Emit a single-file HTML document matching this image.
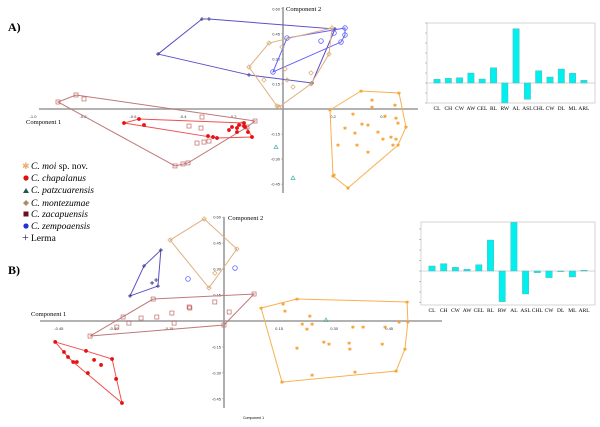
<!DOCTYPE html>
<html><head><meta charset="utf-8">
<style>
html,body{margin:0;padding:0;background:#fff;width:600px;height:427px;overflow:hidden}
svg{display:block;font-family:"Liberation Serif",serif}
</style></head>
<body>
<svg id="fig" width="600" height="427" viewBox="0 0 600 427" xmlns="http://www.w3.org/2000/svg">
<text x="8" y="31" font-size="12" font-weight="bold">A)</text>
<text x="8" y="274" font-size="12" font-weight="bold">B)</text>
<g font-size="9.5">
 <g><text x="22" y="169" fill="#e8b070" font-size="9">✱</text><text x="31" y="169"><tspan font-style="italic">C. moi</tspan> sp. nov.</text></g>
 <g><circle cx="26" cy="178" r="2.6" fill="#e01010"/><text x="31" y="181" font-style="italic">C. chapalanus</text></g>
 <g><path d="M23,193 L26,188 L29,193Z" fill="#1a5a50"/><text x="31" y="193" font-style="italic">C. patzcuarensis</text></g>
 <g><path d="M26,200 L29,203 L26,206 L23,203Z" fill="#b08a60"/><text x="31" y="206" font-style="italic">C. montezumae</text></g>
 <g><rect x="23.5" y="211.5" width="5" height="5" fill="#6a1020"/><text x="31" y="217" font-style="italic">C. zacapuensis</text></g>
 <g><circle cx="26" cy="226" r="2.6" fill="#2030e0"/><text x="31" y="229" font-style="italic">C. zempoaensis</text></g>
 <g><text x="22" y="241" font-size="12" fill="#202060">+</text><text x="31" y="241">Lerma</text></g>
</g>
<g id="plotA"></g>
<g id="plotB"></g>
<g id="barA"></g>
<g id="barB"></g>
<text x="243" y="419" font-size="3.5" font-family="Liberation Sans">Component 1</text>
</svg>
<script>
// ---- Panel A data (component units) ----
const aLermaX=[-0.324,-0.296,0.208,0.116,-0.136,-0.5];
const aLermaY=[0.539,0.539,0.479,0.156,0.204,0.329];
const aZempX=[0.016,0.204,0.248,0.248,0.232,-0.04,0.152];
const aZempY=[0.425,0.455,0.485,0.443,0.401,0.222,0.407];
const aMontX=[-0.056,0.196,0.184,0.112,-0.024,-0.136,-0.004,0.008,-0.076,0.016,0.04,0.112,-0.016];
const aMontY=[0.395,0.485,0.329,0.150,0.018,0.251,0.371,0.240,0.174,0.174,0.132,0.216,0.012];
const aZacX=[-0.9,-0.828,-0.112,-0.38,-0.4,-0.432,-0.796,-0.324,-0.376,-0.328,-0.296,-0.316,-0.344,-0.144,-0.16];
const aZacY=[0.042,0.084,-0.072,-0.323,-0.329,-0.341,0.06,-0.048,-0.102,-0.114,-0.192,-0.198,-0.204,-0.108,-0.090];
const aChapX=[-0.636,-0.576,-0.556,-0.3,-0.28,-0.264,-0.216,-0.204,-0.184,-0.176,-0.156,-0.152,-0.184,-0.14,-0.124,-0.156];
const aChapY=[-0.084,-0.06,-0.096,-0.162,-0.168,-0.174,-0.126,-0.108,-0.114,-0.096,-0.102,-0.108,-0.138,-0.138,-0.168,-0.084];
const aPatzX=[-0.028,0.04];
const aPatzY=[-0.228,-0.413];
const aMoiX=[0.312,0.464,0.492,0.46,0.26,0.2,0.188,0.356,0.356,0.448,0.408,0.452,0.46,0.28,0.248,0.316,0.34,0.38,0.288,0.22,0.296,0.34,0.4,0.432,0.452,0.44,0.204];
const aMoiY=[0.108,0.096,-0.108,-0.216,-0.473,-0.401,-0.006,0.054,0.012,0.024,-0.042,-0.054,-0.084,-0.030,-0.114,-0.090,-0.096,-0.138,-0.144,-0.216,-0.216,-0.257,-0.180,-0.168,-0.180,-0.216,-0.395];
const aXTicks=[-1.0,-0.8,-0.6,-0.4,-0.2,0.2,0.4];
const aYTicks=[0.60,0.45,0.30,0.15,-0.15,-0.30,-0.45];
// ---- Panel B data ----
const bLermaX=[-0.172,-0.18,-0.256,-0.218,-0.196,-0.185];
const bLermaY=[0.41,0.202,0.145,0.318,0.220,0.237];
const bMontX=[-0.054,0.035,-0.041,-0.147,-0.025];
const bMontY=[0.59,0.416,0.191,0.468,0.277];
const bZempX=[-0.098,0.030];
const bZempY=[0.243,0.306];
const bZacX=[-0.365,-0.193,0.082,0,-0.275,-0.292,-0.259,-0.226,-0.183,-0.142,-0.095,-0.093,-0.025,0.014,-0.136];
const bZacY=[-0.087,0.127,0.156,-0.023,0.023,-0.035,-0.012,0.017,0.023,0.046,0.081,0.075,0.110,0.052,-0.012];
const bChapX=[-0.46,-0.305,-0.294,-0.278,-0.436,-0.425,-0.411,-0.401,-0.376,-0.354,-0.335,-0.371];
const bChapY=[-0.121,-0.220,-0.335,-0.474,-0.179,-0.208,-0.237,-0.237,-0.173,-0.225,-0.254,-0.301];
const bMoiX=[0.101,0.199,0.499,0.501,0.493,0.469,0.158,0.161,0.166,0.234,0.213,0.240,0.226,0.351,0.379,0.439,0.477,0.272,0.286,0.341,0.343,0.199,0.431,0.240,0.357];
const bMoiY=[0.075,0.127,0.110,-0.006,-0.162,-0.289,-0.353,0.098,0.058,0.029,-0.017,-0.017,-0.046,-0.035,-0.035,-0.035,-0.006,-0.121,-0.133,-0.127,-0.162,-0.156,-0.133,-0.312,-0.295];
const bPatzX=[0.278];
const bPatzY=[0.006];
const bXTicks=[-0.45,-0.30,-0.15,0.15,0.30,0.45];
const bYTicks=[0.60,0.45,0.30,0.15,-0.15,-0.30,-0.45];
// ---- Bar loadings ----
const barCats=["CL","CH","CW","AW","CEL","RL","RW","AL","ASL","CHL","CW","DL","ML","ARL"];
const barAVals=[0.37,0.47,0.53,1.0,0.4,1.53,-2.0,5.43,-1.63,1.23,0.6,1.4,0.97,0.27];
const barBVals=[0.48,0.7,0.35,0.17,0.6,2.95,-2.92,4.63,-2.19,-0.16,-0.63,-0.06,-0.57,0.08];
const barATicks=[-2,-1,0,1,2,3,4,5,6];
const barBTicks=[-3,-2,-1,0,1,2,3,4];

const NS="http://www.w3.org/2000/svg";
function mk(parent,tag,attrs){const e=document.createElementNS(NS,tag);for(const k in attrs)e.setAttribute(k,attrs[k]);parent.appendChild(e);return e;}
function hull(pts){
  const p=pts.slice().sort((a,b)=>a[0]-b[0]||a[1]-b[1]);
  const cr=(o,a,b)=>(a[0]-o[0])*(b[1]-o[1])-(a[1]-o[1])*(b[0]-o[0]);
  const lo=[],up=[];
  for(const q of p){while(lo.length>=2&&cr(lo[lo.length-2],lo[lo.length-1],q)<=0)lo.pop();lo.push(q);}
  for(let i=p.length-1;i>=0;i--){const q=p[i];while(up.length>=2&&cr(up[up.length-2],up[up.length-1],q)<=0)up.pop();up.push(q);}
  up.pop();lo.pop();return lo.concat(up);
}
function marker(g,type,x,y,col){
  let e;
  if(type==="star"){e=mk(g,"text",{x:x,y:y+2,"font-size":5,"text-anchor":"middle",fill:col});e.textContent="✱";}
  else if(type==="dot"){e=mk(g,"circle",{cx:x,cy:y,r:1.9,fill:col});}
  else if(type==="ocircle"){e=mk(g,"circle",{cx:x,cy:y,r:2.3,fill:"none",stroke:col,"stroke-width":0.8});}
  else if(type==="osq"){e=mk(g,"rect",{x:x-2,y:y-2,width:4,height:4,fill:"none",stroke:col,"stroke-width":0.7});}
  else if(type==="odia"){e=mk(g,"path",{d:`M${x},${y-2.2}L${x+2.2},${y}L${x},${y+2.2}L${x-2.2},${y}Z`,fill:"none",stroke:col,"stroke-width":0.7});}
  else if(type==="otri"){e=mk(g,"path",{d:`M${x-2},${y+1.5}L${x},${y-2}L${x+2},${y+1.5}Z`,fill:"none",stroke:col,"stroke-width":0.7});}
  else if(type==="plus"){e=mk(g,"path",{d:`M${x-2},${y}H${x+2}M${x},${y-2}V${y+2}`,stroke:col,"stroke-width":0.8});}
  
  
}
function group(g,xs,ys,sx,sy,type,col,lcol,doHull,name){
  const gg=mk(g,"g",{});
  
  
  const pts=xs.map((v,i)=>[sx(v),sy(ys[i])]);
  if(doHull&&pts.length>2){
    const h=hull(pts);
    const pl=mk(gg,"polygon",{points:h.map(p=>p.join(",")).join(" "),fill:"none",stroke:lcol,"stroke-width":1});
    
    
  }
  pts.forEach(p=>marker(gg,type,p[0],p[1],col));
}
function axes(g,sx,sy,x0,x1,y0,y1,xt,yt,lab2,lab1,tf){
  mk(g,"line",{x1:x0,y1:sy(0),x2:x1,y2:sy(0),stroke:"#999","stroke-width":1.6});
  mk(g,"line",{x1:sx(0),y1:y0,x2:sx(0),y2:y1,stroke:"#999","stroke-width":1.6});
  xt.forEach(v=>{const t=mk(g,"text",{x:sx(v),y:sy(0)+9,"font-size":4,"text-anchor":"middle","font-family":"Liberation Sans",fill:"#333"});t.textContent=v.toFixed(tf);
    });
  yt.forEach(v=>{const t=mk(g,"text",{x:sx(0)-3,y:sy(v)+1.5,"font-size":4,"text-anchor":"end","font-family":"Liberation Sans",fill:"#333"});t.textContent=v.toFixed(2);
    
    mk(g,"line",{x1:sx(0)-2,y1:sy(v),x2:sx(0),y2:sy(v),stroke:"#999","stroke-width":0.6});});
  const a=mk(g,"text",{x:lab2[0],y:lab2[1],"font-size":6.5});a.textContent="Component 2";
  
  const b=mk(g,"text",{x:lab1[0],y:lab1[1],"font-size":6.5});b.textContent="Component 1";
  
}
// Panel A
(function(){
  const g=document.getElementById("plotA");
  const sx=v=>283+v*250, sy=v=>109-v*167;
  axes(g,sx,sy,39,418,7,193,aXTicks,aYTicks,[286,11],[26,124],1);
  group(g,aLermaX,aLermaY,sx,sy,"plus","#2a2a80","#5a50c8",true,"lerma-a");
  group(g,aZempX,aZempY,sx,sy,"ocircle","#6060ff","#6060ff",true,"zempoaensis-a");
  group(g,aMontX,aMontY,sx,sy,"odia","#d8a870","#e0b080",true,"montezumae-a");
  group(g,aZacX,aZacY,sx,sy,"osq","#c06a6a","#c07878",true,"zacapuensis-a");
  group(g,aChapX,aChapY,sx,sy,"dot","#e81010","#f05050",true,"chapalanus-a");
  group(g,aPatzX,aPatzY,sx,sy,"otri","#40b0a8","#40b0a8",false,"patzcuarensis-a");
  group(g,aMoiX,aMoiY,sx,sy,"star","#f5a030","#f8b050",true,"moi-a");
})();
// Panel B
(function(){
  const g=document.getElementById("plotB");
  const sx=v=>224+v*367, sy=v=>321-v*173;
  axes(g,sx,sy,40,442,217,408,bXTicks,bYTicks,[228,220],[31,316],2);
  group(g,bLermaX,bLermaY,sx,sy,"plus","#2a2a80","#5a50c8",true,"lerma-b");
  group(g,bZempX,bZempY,sx,sy,"ocircle","#6060ff","#6060ff",false,"zempoaensis-b");
  group(g,bMontX,bMontY,sx,sy,"odia","#d8a870","#e0b080",true,"montezumae-b");
  group(g,bZacX,bZacY,sx,sy,"osq","#c06a6a","#c07878",true,"zacapuensis-b");
  group(g,bChapX,bChapY,sx,sy,"dot","#e81010","#f05050",true,"chapalanus-b");
  group(g,bPatzX,bPatzY,sx,sy,"otri","#40b0a8","#40b0a8",false,"patzcuarensis-b");
  group(g,bMoiX,bMoiY,sx,sy,"star","#f5a030","#f8b050",true,"moi-b");
})();
// Bars
function bars(id,vals,ticks,box,zeroY,unit,x0,step,name){
  const g=document.getElementById(id);
  mk(g,"rect",{x:box[0],y:box[1],width:box[2]-box[0],height:box[3]-box[1],fill:"#fff",stroke:"#bbb","stroke-width":0.6});
  const sy=v=>zeroY-v*unit;
  ticks.forEach(t=>mk(g,"line",{x1:box[0]-2,y1:sy(t),x2:box[0],y2:sy(t),stroke:"#888","stroke-width":0.5}));
  mk(g,"line",{x1:box[0],y1:sy(0),x2:box[2],y2:sy(0),stroke:"#aaa","stroke-width":0.6});
  vals.forEach((v,i)=>{
    const cx=x0+i*step, y=Math.min(sy(v),sy(0)), h=Math.abs(sy(v)-sy(0));
    const r=mk(g,"rect",{x:cx-3.2,y:y,width:6.4,height:h,fill:"#00f0f0",stroke:"#6aa","stroke-width":0.4});
    
    
    const t=mk(g,"text",{x:cx,y:box[3]+7,"font-size":5.5,"text-anchor":"middle"});t.textContent=barCats[i];
    
    
  });
}
bars("barA",barAVals,barATicks,[427,23,595,103],83,10,437,11.3,"a");
bars("barB",barBVals,barBTicks,[421,222,595,305],271,10.5,432,11.7,"b");
</script>
</body></html>
